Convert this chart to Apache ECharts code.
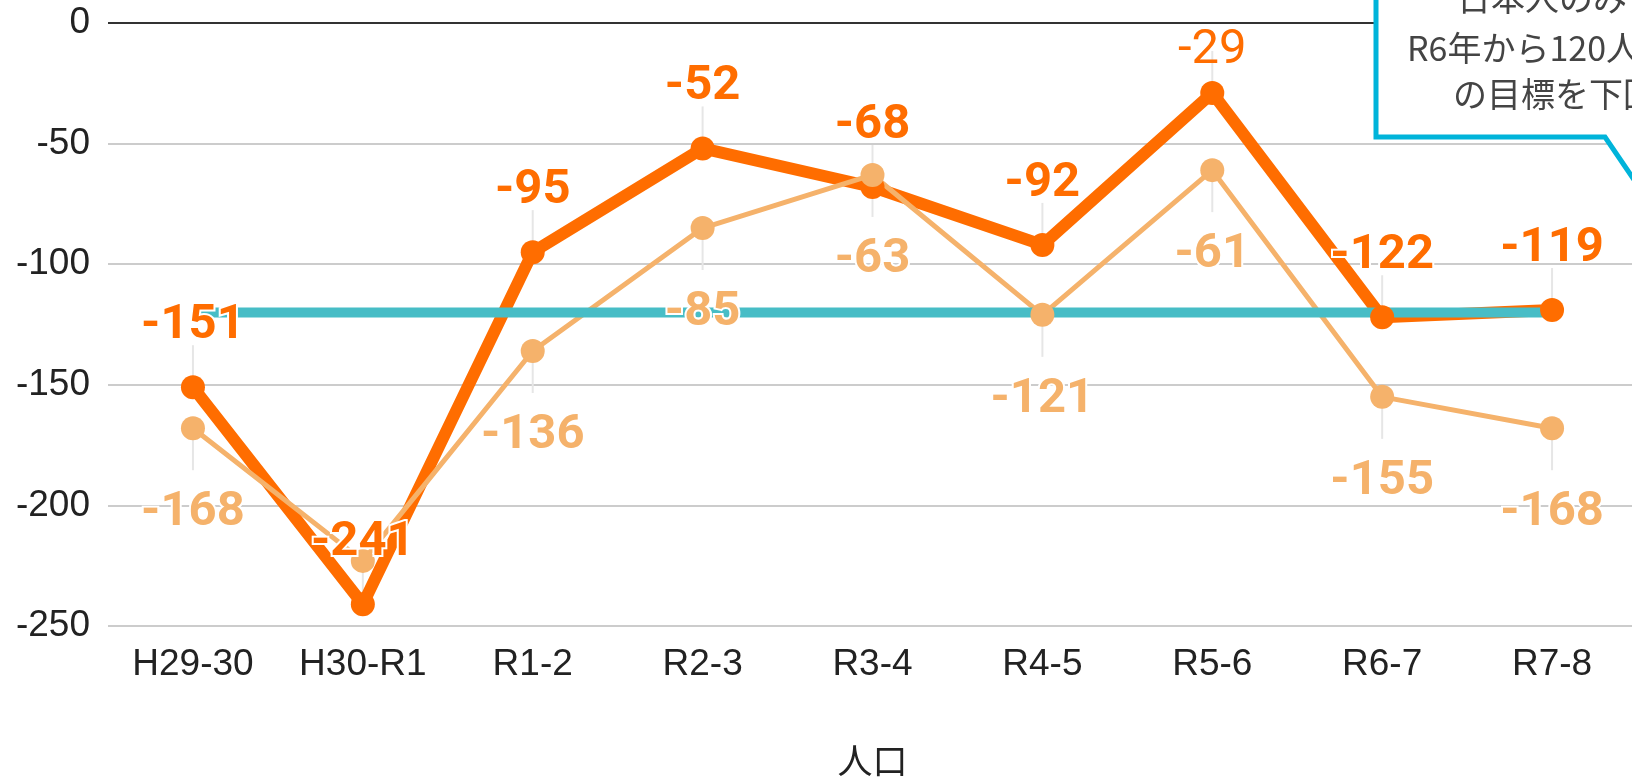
<!DOCTYPE html>
<html>
<head>
<meta charset="utf-8">
<script src="https://cdn.jsdelivr.net/npm/echarts@6/dist/echarts.min.js"></script>
<style>
  html, body { margin: 0; padding: 0; background: #fff; }
  #main { width: 1632px; height: 779px; }
</style>
</head>
<body>
<div id="main"></div>
<script>
  const categories = ["H29-30", "H30-R1", "R1-2", "R2-3", "R3-4", "R4-5", "R5-6", "R6-7", "R7-8"];
  const totalValues = [-151, -241, -95, -52, -68, -92, -29, -122, -119];
  const japaneseValues = [-168, -223, -136, -85, -63, -121, -61, -155, -168];
  const targetValues = [-120, -120, -120, -120, -120, -120, -120, -120, -120];
  const hiddenLabelIndex = [1];      // label of the second light point is covered
  const plainLabelIndex = [6];       // "-29" is drawn in regular weight, pushed down
  const calloutLines = ["日本人のみでは", "R6年から120人減", "の目標を下回る"];

  const dark = "#ff6d00";
  const light = "#f5b26b";
  const teal = "#47bdc6";

  let myChart = echarts.init(document.getElementById("main"));

  const labelBase = {
    show: true,
    fontFamily: "Roboto",
    fontWeight: "bold",
    fontSize: 49,
    textBorderColor: "#fff",
    textBorderWidth: 4
  };

  let darkPoints = totalValues.map(function (v, i) {
    if (plainLabelIndex.indexOf(i) >= 0) {
      return { value: v, label: { fontWeight: "normal", distance: 6, textBorderWidth: 0 } };
    }
    return v;
  });
  let lightPoints = japaneseValues.map(function (v, i) {
    if (hiddenLabelIndex.indexOf(i) >= 0) {
      return { value: v, label: { show: false } };
    }
    return v;
  });

  // thin guide lines between each point and its label
  let guideData = categories.map(function (c, i) {
    return [i, totalValues[i], japaneseValues[i], hiddenLabelIndex.indexOf(i) >= 0 ? 0 : 1];
  });

  let option = {
    animation: false,
    grid: { left: 108, right: -5, top: 23, bottom: 153, containLabel: false, outerBoundsMode: "none" },
    xAxis: {
      type: "category",
      data: categories,
      name: "人口",
      nameLocation: "middle",
      nameGap: 117,
      nameTextStyle: { fontFamily: "Noto Sans CJK JP", fontSize: 35, color: "#222" },
      axisLine: { show: false },
      axisTick: { show: false },
      axisLabel: { fontFamily: "Liberation Sans", fontSize: 37, color: "#222", margin: 20 }
    },
    yAxis: {
      type: "value",
      min: -250,
      max: 0,
      interval: 50,
      axisLine: { show: false },
      axisTick: { show: false },
      axisLabel: { fontFamily: "Liberation Sans", fontSize: 37, color: "#222", margin: 18 },
      splitLine: {
        lineStyle: {
          width: 2,
          color: ["#cccccc", "#cccccc", "#cccccc", "#cccccc", "#cccccc", "#333333"]
        }
      }
    },
    series: [
      {
        type: "custom",
        data: guideData,
        z: 1,
        renderItem: function (params, api) {
          const top = api.coord([api.value(0), api.value(1)]);
          const bottom = api.coord([api.value(0), api.value(2)]);
          const children = [{
            type: "line",
            shape: { x1: top[0], y1: top[1], x2: top[0], y2: top[1] - 42 },
            style: { stroke: "#e6e6e6", lineWidth: 2 }
          }];
          if (api.value(3)) {
            children.push({
              type: "line",
              shape: { x1: bottom[0], y1: bottom[1], x2: bottom[0], y2: bottom[1] + 42 },
              style: { stroke: "#e6e6e6", lineWidth: 2 }
            });
          }
          return { type: "group", children: children };
        }
      },
      {
        type: "line",
        data: totalValues,
        symbol: "none",
        z: 2,
        lineStyle: { color: dark, width: 12 }
      },
      {
        type: "line",
        data: japaneseValues,
        symbol: "none",
        z: 2,
        lineStyle: { color: light, width: 5 }
      },
      {
        type: "line",
        data: targetValues,
        symbol: "none",
        z: 3,
        lineStyle: { color: teal, width: 10 }
      },
      {
        type: "scatter",
        data: darkPoints,
        symbolSize: 24,
        z: 4,
        itemStyle: { color: dark, opacity: 1 },
        label: Object.assign({}, labelBase, { position: "top", distance: 25, color: dark })
      },
      {
        type: "scatter",
        data: lightPoints,
        symbolSize: 24,
        z: 4,
        itemStyle: { color: light, opacity: 1 },
        label: Object.assign({}, labelBase, { position: "bottom", distance: 48, color: light })
      }
    ],
    graphic: [
      {
        type: "polygon",
        z: 100,
        shape: {
          points: [[1376, -20], [1376, 137], [1605, 137], [1660, 218], [1700, 218], [1700, -20]]
        },
        style: { fill: "#fff", stroke: "#00b4da", lineWidth: 5, lineJoin: "miter" }
      },
      {
        type: "text", z: 101, x: 1457, y: -2,
        style: { text: calloutLines[0], fontFamily: "Noto Sans CJK JP", fontSize: 34, fill: "#444", verticalAlign: "middle" }
      },
      {
        type: "text", z: 101, x: 1407, y: 48,
        style: { text: calloutLines[1], fontFamily: "Noto Sans CJK JP", fontSize: 34, fill: "#444", verticalAlign: "middle" }
      },
      {
        type: "text", z: 101, x: 1453, y: 94,
        style: { text: calloutLines[2], fontFamily: "Noto Sans CJK JP", fontSize: 34, fill: "#444", verticalAlign: "middle" }
      }
    ]
  };

  option && myChart.setOption(option);
</script>
</body>
</html>
